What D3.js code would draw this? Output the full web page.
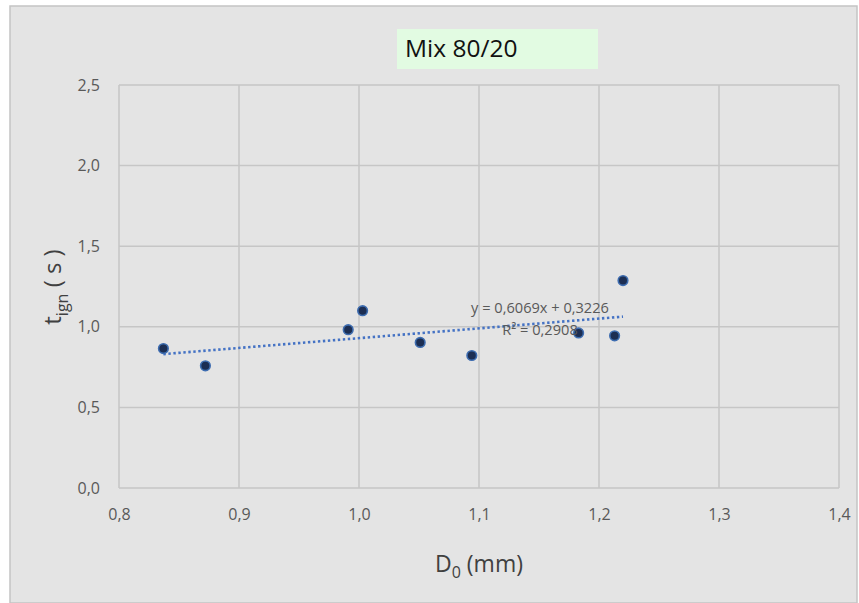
<!DOCTYPE html>
<html>
<head>
<meta charset="utf-8">
<script src="https://cdn.jsdelivr.net/npm/d3@7"></script>
<style>
  html, body { margin: 0; padding: 0; background: #ffffff; }
  svg { display: block; }
  text { font-family: "Open Sans", "Noto Sans", sans-serif; }
</style>
</head>
<body>
<svg id="chart" width="859" height="603"></svg>
<script>
// Ignition time vs. droplet diameter, Mix 80/20
const diameters = [0.837, 0.872, 0.991, 1.003, 1.051, 1.094, 1.183, 1.213, 1.220];
const ignitionTimes = [0.865, 0.758, 0.982, 1.100, 0.903, 0.822, 0.962, 0.944, 1.287];
const xTicks = [0.8, 0.9, 1.0, 1.1, 1.2, 1.3, 1.4];
const yTicks = [0.0, 0.5, 1.0, 1.5, 2.0, 2.5];
const trendSlope = 0.6069;
const trendIntercept = 0.3226;
const trendR2 = 0.2908;
const chartTitle = "Mix 80/20";

const svg = d3.select("#chart");
const W = 859, H = 603;
const m = { left: 119, right: 20, top: 85, bottom: 115 };

const fmt1 = d => d3.format(".1f")(d).replace(".", ",");
const fmt4 = d => d3.format(".4f")(d).replace(".", ",");

// chart background
svg.append("rect")
  .attr("x", 10).attr("y", 6).attr("width", W - 12).attr("height", H - 6)
  .attr("fill", "#e4e4e4").attr("stroke", "#c4c4c4").attr("stroke-width", 1.5);

const x = d3.scaleLinear().domain([0.8, 1.4]).range([m.left, W - m.right]);
const y = d3.scaleLinear().domain([0, 2.5]).range([H - m.bottom, m.top]);

// gridlines
const grid = svg.append("g");
grid.selectAll("line.v").data(xTicks).join("line")
  .attr("x1", d => x(d)).attr("x2", d => x(d))
  .attr("y1", y(0)).attr("y2", y(2.5))
  .attr("stroke", "#c6c6c6").attr("stroke-width", 1.5);
grid.selectAll("line.h").data(yTicks).join("line")
  .attr("x1", x(0.8)).attr("x2", x(1.4))
  .attr("y1", d => y(d)).attr("y2", d => y(d))
  .attr("stroke", "#c6c6c6").attr("stroke-width", 1.5);

// axes (labels only)
const xAxis = svg.append("g")
  .attr("transform", `translate(0,${y(0)})`)
  .call(d3.axisBottom(x).tickValues(xTicks).tickFormat(fmt1).tickSize(0).tickPadding(21));
const yAxis = svg.append("g")
  .attr("transform", `translate(${x(0.8)},0)`)
  .call(d3.axisLeft(y).tickValues(yTicks).tickFormat(fmt1).tickSize(0).tickPadding(19));
[xAxis, yAxis].forEach(g => {
  g.select(".domain").remove();
  g.selectAll("text").attr("fill", "#595959").style("font-size", "16px")
    .style("font-family", "'Open Sans', sans-serif");
});

// trendline
const xs = d3.extent(diameters);
svg.append("line")
  .attr("x1", x(xs[0])).attr("y1", y(trendSlope * xs[0] + trendIntercept))
  .attr("x2", x(xs[1])).attr("y2", y(trendSlope * xs[1] + trendIntercept))
  .attr("stroke", "#4472c4").attr("stroke-width", 2.6)
  .attr("stroke-dasharray", "2.4 2.6");

// points
svg.append("defs").append("filter").attr("id", "soft")
  .append("feGaussianBlur").attr("stdDeviation", 0.6);
svg.append("g").selectAll("circle")
  .data(diameters.map((d, i) => [d, ignitionTimes[i]]))
  .join("circle")
  .attr("cx", d => x(d[0])).attr("cy", d => y(d[1])).attr("r", 4.8)
  .attr("fill", "#1b2f52").attr("stroke", "#3d6cb0").attr("stroke-width", 1.6)
  .attr("filter", "url(#soft)");

// trendline equation
const eq = svg.append("g").attr("fill", "#595959").style("font-size", "14.6px")
  .attr("text-anchor", "middle");
eq.append("text").attr("x", 540).attr("y", 313)
  .text(`y = ${fmt4(trendSlope)}x + ${fmt4(trendIntercept)}`);
eq.append("text").attr("x", 540).attr("y", 335)
  .text(`R² = ${fmt4(trendR2)}`);

// title box
svg.append("rect").attr("x", 397).attr("y", 29).attr("width", 201).attr("height", 40)
  .attr("fill", "#e2fbe2");
svg.append("text").attr("x", 405).attr("y", 57).attr("fill", "#111")
  .style("font-size", "24.5px").text(chartTitle);

// axis titles
const xt = svg.append("text").attr("x", 479).attr("y", 572).attr("text-anchor", "middle")
  .attr("fill", "#404040").style("font-size", "23px");
xt.append("tspan").text("D");
xt.append("tspan").attr("dy", 6).style("font-size", "16px").text("0");
xt.append("tspan").attr("dy", -6).text(" (mm)");

const yt = svg.append("text").attr("transform", "translate(61,287) rotate(-90)")
  .attr("text-anchor", "middle").attr("fill", "#404040").style("font-size", "24px");
yt.append("tspan").text("t");
yt.append("tspan").attr("dy", 7).style("font-size", "16px").text("ign");
yt.append("tspan").attr("dy", -7).text(" ( s )");
</script>
</body>
</html>
